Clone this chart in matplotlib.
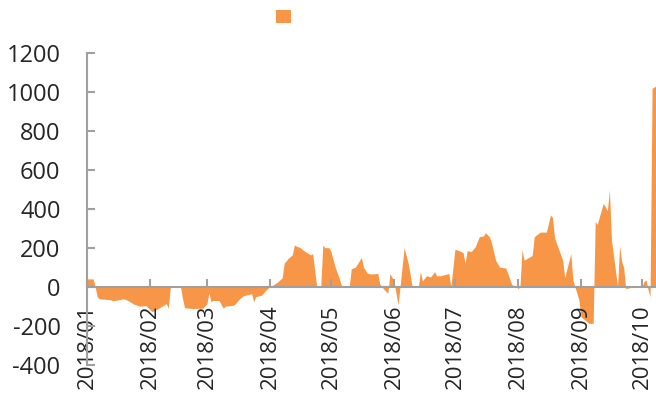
import matplotlib
matplotlib.use("Agg")
import matplotlib.pyplot as plt
import matplotlib.dates as mdates
from matplotlib.patches import Patch
import pandas as pd

dates = [
    "2018-01-01", "2018-01-04", "2018-01-05", "2018-01-06", "2018-01-07", "2018-01-12",
    "2018-01-14", "2018-01-19", "2018-01-21", "2018-01-24", "2018-01-27", "2018-01-30",
    "2018-02-02", "2018-02-05", "2018-02-09", "2018-02-10", "2018-02-11", "2018-02-16",
    "2018-02-17", "2018-02-18", "2018-02-22", "2018-02-27", "2018-03-01", "2018-03-02",
    "2018-03-03", "2018-03-04", "2018-03-07", "2018-03-09", "2018-03-10", "2018-03-14",
    "2018-03-15", "2018-03-17", "2018-03-19", "2018-03-23", "2018-03-24", "2018-03-25",
    "2018-03-28", "2018-03-30", "2018-04-01", "2018-04-02", "2018-04-05", "2018-04-07",
    "2018-04-08", "2018-04-10", "2018-04-12", "2018-04-13", "2018-04-14", "2018-04-16",
    "2018-04-17", "2018-04-19", "2018-04-21", "2018-04-22", "2018-04-24", "2018-04-26",
    "2018-04-27", "2018-04-28", "2018-04-30", "2018-05-01", "2018-05-03", "2018-05-05",
    "2018-05-06", "2018-05-07", "2018-05-10", "2018-05-11", "2018-05-13", "2018-05-16",
    "2018-05-17", "2018-05-19", "2018-05-21", "2018-05-24", "2018-05-25", "2018-05-27",
    "2018-05-29", "2018-05-30", "2018-06-01", "2018-06-03", "2018-06-04", "2018-06-06",
    "2018-06-08", "2018-06-10", "2018-06-13", "2018-06-14", "2018-06-15", "2018-06-17",
    "2018-06-19", "2018-06-21", "2018-06-22", "2018-06-24", "2018-06-28", "2018-06-29",
    "2018-07-01", "2018-07-03", "2018-07-05", "2018-07-06", "2018-07-07", "2018-07-09",
    "2018-07-11", "2018-07-13", "2018-07-15", "2018-07-16", "2018-07-18", "2018-07-19",
    "2018-07-21", "2018-07-23", "2018-07-26", "2018-07-27", "2018-07-29", "2018-07-31",
    "2018-08-01", "2018-08-02", "2018-08-03", "2018-08-04", "2018-08-08", "2018-08-09",
    "2018-08-12", "2018-08-15", "2018-08-17", "2018-08-18", "2018-08-19", "2018-08-23",
    "2018-08-24", "2018-08-27", "2018-08-28", "2018-08-29", "2018-08-31", "2018-09-01",
    "2018-09-05", "2018-09-07", "2018-09-08", "2018-09-09", "2018-09-12", "2018-09-14",
    "2018-09-15", "2018-09-16", "2018-09-19", "2018-09-20", "2018-09-21", "2018-09-22",
    "2018-09-23", "2018-09-25", "2018-09-27", "2018-10-01", "2018-10-02", "2018-10-03",
    "2018-10-04", "2018-10-05", "2018-10-06", "2018-10-08",
]
values = [
    40, 40, 0, -51, -62, -66,
    -72, -62, -70, -89, -100, -97,
    -128, -112, -87, -110, 0, 0,
    -62, -108, -112, -110, -87, -33,
    -77, -70, -72, -110, -100, -95,
    -87, -62, -46, -36, -77, -51,
    -43, -17, 0, 5, 26, 45,
    120, 146, 163, 214, 208, 200,
    190, 176, 163, 170, 0, 0,
    214, 200, 200, 180, 103, 46,
    10, 0, 0, 92, 100, 150,
    100, 68, 65, 68, 15, -13,
    -34, 68, 30, -94, 0, 200,
    120, 0, 0, 77, 30, 56,
    50, 77, 56, 56, 68, 0,
    192, 185, 175, 120, 185, 180,
    205, 257, 260, 277, 255, 225,
    136, 100, 96, 68, 10, 5,
    -10, 0, 190, 136, 160, 256,
    280, 280, 368, 355, 250, 136,
    46, 170, 36, 0, -68, -154,
    -188, -188, 334, 320, 428, 390,
    496, 240, 0, 210, 130, 100,
    -10, -5, 0, 0, 26, 36,
    -15, -51, 1018, 1030,
]
month_ticks = pd.date_range("2018-01-01", "2018-10-01", freq="MS")
y_ticks = list(range(-400, 1201, 200))

x = pd.to_datetime(dates)

plt.rcParams["font.family"] = ["Open Sans", "DejaVu Sans"]
plt.rcParams["axes.unicode_minus"] = False
fig = plt.figure(figsize=(6.56, 4.03), dpi=100)
ax = fig.add_axes([87 / 656, 38.3 / 403, 1 - 87 / 656, 312 / 403])

orange = "#F79646"
ax.fill_between(x, values, 0, color=orange, linewidth=0)

ax.set_ylim(-400, 1200)
ax.set_xlim(pd.Timestamp("2018-01-01"), pd.Timestamp("2018-10-07 22:00"))
ax.set_yticks(y_ticks)
ax.set_xticks(month_ticks)
ax.xaxis.set_major_formatter(mdates.DateFormatter("%Y/%m"))

grey = "#A0A0A0"
for s in ["top", "right"]:
    ax.spines[s].set_visible(False)
ax.spines["bottom"].set_position(("data", 0))
ax.spines["bottom"].set_color(grey)
ax.spines["left"].set_color(grey)
ax.spines["bottom"].set_linewidth(1.5)
ax.spines["left"].set_linewidth(1.5)

ax.tick_params(axis="y", direction="in", length=6, width=1.5, color=grey,
               labelsize=17, labelcolor="#262626", pad=19)
ax.tick_params(axis="x", direction="in", length=6, width=1.5, color=grey,
               labelsize=16, labelcolor="#262626", pad=13, labelrotation=90)
for lab in ax.get_xticklabels():
    lab.set_verticalalignment("top")
    lab.set_horizontalalignment("center")

fig.legend(handles=[Patch(facecolor=orange, edgecolor="none")], labels=[""],
           loc="center", bbox_to_anchor=(283.5 / 656, 1 - 17.5 / 403),
           frameon=False, fontsize=10, handlelength=1.1, handleheight=1.1,
           handletextpad=0, borderpad=0, borderaxespad=0)

fig.savefig("out.png", dpi=100)
